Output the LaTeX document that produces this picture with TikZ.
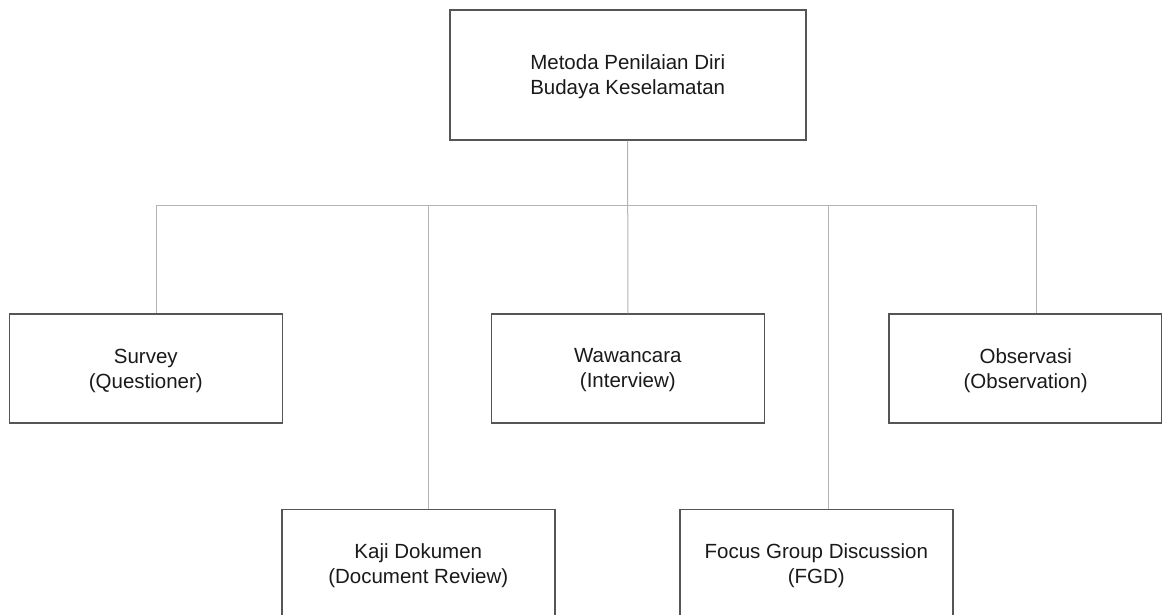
\documentclass[tikz,border=0pt]{standalone}
\usepackage{fontspec}
\setmainfont{Liberation Sans}
\usetikzlibrary{positioning}
\definecolor{boxgray}{HTML}{555555}
\definecolor{linkgray}{HTML}{B4B4B4}
\definecolor{textgray}{HTML}{1A1A1A}
\tikzset{
  box/.style={draw=boxgray, line width=1.6pt, text=textgray, align=center,
    inner sep=0pt, minimum width=273pt, minimum height=108.7pt,
    font=\fontsize{20.5}{25}\selectfont, text depth=-1.5pt},
  link/.style={draw=linkgray, line width=1pt},
}

\begin{document}
\begin{tikzpicture}[x=1pt,y=-1pt]
  \useasboundingbox (0,0) rectangle (1162,614);
  \fill[white] (0,0) rectangle (1162,614);
  % top
  \node[box, minimum width=356pt, minimum height=130pt] (metoda) at (627.7,74.7)
    {Metoda Penilaian Diri\\Budaya Keselamatan};
  % first row
  \node[box] (survey) at (145.8,368.4) {Survey\\(Questioner)};
  \node[box] (wawancara) at (627.8,368.4) {Wawancara\\(Interview)};
  \node[box] (observasi) at (1025.7,368.4) {Observasi\\(Observation)};
  % second row
  \node[box] (kaji) at (418.3,563.7) {Kaji Dokumen\\(Document Review)};
  \node[box] (fgd) at (816.3,563.7) {Focus Group Discussion\\(FGD)};
  % bus
  \coordinate (bus-survey) at (156.7,205);
  \coordinate (bus-kaji) at (428.7,205);
  \coordinate (bus-wawancara) at (627.7,205);
  \coordinate (bus-fgd) at (828,205);
  \coordinate (bus-observasi) at (1036.3,205);
  \draw[link] (bus-survey) -- (bus-observasi);
  \draw[link] (metoda.south) -- (wawancara.north);
  \foreach \n in {survey, kaji, fgd, observasi}
    \draw[link] (bus-\n) -- (bus-\n |- \n.north);
\end{tikzpicture}
\end{document}
